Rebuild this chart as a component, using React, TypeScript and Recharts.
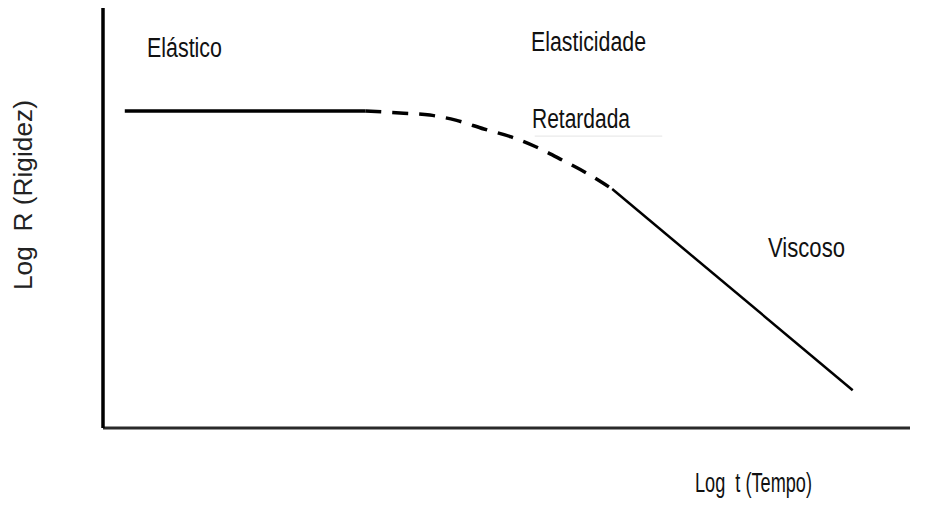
import React from "react";
import { LineChart, Line, XAxis, YAxis, Customized, ReferenceLine } from "recharts";

// Log t (x) and Log R (y) values, in arbitrary log units (0–10)
const elasticT = [0.27, 3.25];
const elasticR = [7.55, 7.55];
const retardedT = [3.25, 3.68, 4.05, 4.37, 4.72, 5.06, 5.37, 5.69, 6.01, 6.31];
const retardedR = [7.55, 7.5, 7.45, 7.33, 7.12, 6.93, 6.69, 6.38, 6.05, 5.69];
const viscousT = [6.31, 9.29];
const viscousR = [5.69, 0.9];

const regionLabels = ["Elástico", "Elasticidade", "Retardada", "Viscoso"];
const xTitle = "Log  t (Tempo)";
const yTitle = "Log  R (Rigidez)";

const toRows = (t: number[], r: number[]) => t.map((v, i) => ({ t: v, r: r[i] }));
const elasticData = toRows(elasticT, elasticR);
const retardedData = toRows(retardedT, retardedR);
const viscousData = toRows(viscousT, viscousR);

const FONT = "'Liberation Sans', Arial, sans-serif";

function Annotations() {
  const common = { fontFamily: FONT, fontSize: 27, fill: "#111", lengthAdjust: "spacingAndGlyphs" as const, style: { whiteSpace: "pre" as const } };
  return (
    <g>
      <text x={147} y={57} textLength={75} {...common}>{regionLabels[0]}</text>
      <text x={531} y={51} textLength={115} {...common}>{regionLabels[1]}</text>
      <text x={532} y={128} textLength={98} {...common}>{regionLabels[2]}</text>
      <text x={768} y={257} textLength={77} {...common}>{regionLabels[3]}</text>
      <text x={695} y={492} textLength={117} {...common}>{xTitle}</text>
      <text x={32} y={195} textAnchor="middle" textLength={190} transform="rotate(-90, 32, 195)" {...common} fill="#222" fontSize={25}>{yTitle}</text>
    </g>
  );
}

export default function App() {
  return (
    <div style={{ position: "absolute", left: 0, top: 0, background: "#fff" }}>
      <LineChart width={926} height={507} margin={{ top: 8, right: 16, bottom: 78, left: 102 }}>
        <XAxis
          type="number"
          dataKey="t"
          domain={[0, 10]}
          tick={false}
          tickLine={false}
          height={1}
          axisLine={{ stroke: "#2a2a2a", strokeWidth: 3 }}
          allowDuplicatedCategory={false}
        />
        <YAxis
          type="number"
          dataKey="r"
          domain={[0, 10]}
          tick={false}
          tickLine={false}
          width={1}
          axisLine={{ stroke: "#000", strokeWidth: 3.5 }}
        />
        <ReferenceLine
          segment={[{ x: 5.35, y: 6.95 }, { x: 6.93, y: 6.95 }]}
          stroke="#e4e4e4"
          strokeWidth={1}
        />
        <Line data={elasticData} dataKey="r" type="linear" stroke="#000" strokeWidth={3.5} dot={false} isAnimationActive={false} />
        <Line data={retardedData} dataKey="r" type="monotone" stroke="#000" strokeWidth={3.5} strokeDasharray="16 11" dot={false} isAnimationActive={false} />
        <Line data={viscousData} dataKey="r" type="linear" stroke="#000" strokeWidth={2.5} dot={false} isAnimationActive={false} />
        <Customized component={Annotations} />
      </LineChart>
    </div>
  );
}
